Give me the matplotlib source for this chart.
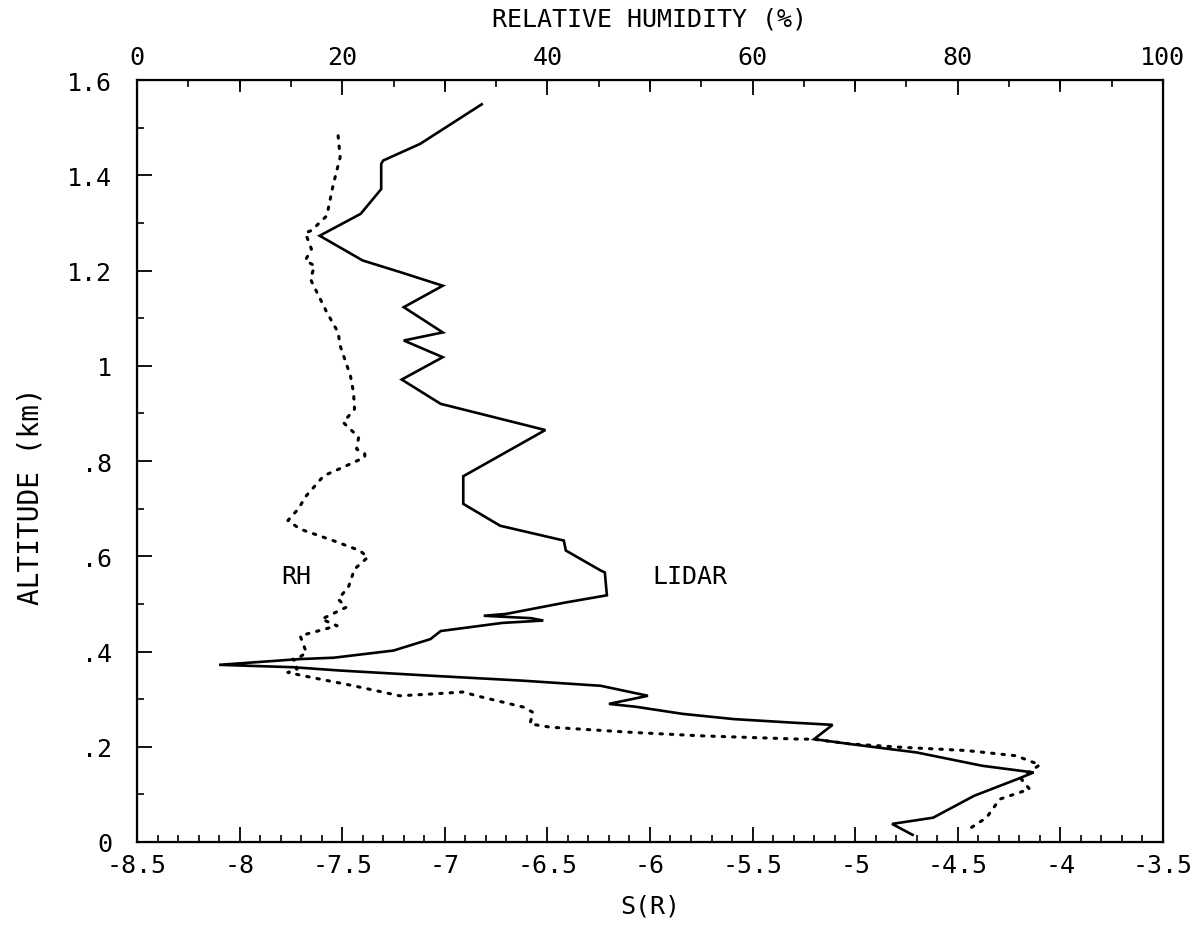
import numpy as np
import matplotlib
matplotlib.use("Agg")
import matplotlib.pyplot as plt
from matplotlib.ticker import MultipleLocator, FixedLocator

# lidar profile: S(R) vs altitude (km)
lidar_s = [-6.82, -7.12, -7.30, -7.31, -7.31, -7.41, -7.61, -7.40, -7.22, -7.01,
           -7.20, -7.01, -7.20, -7.01, -7.21, -7.02, -6.51, -6.91, -6.91, -6.73,
           -6.42, -6.41, -6.24, -6.22, -6.21, -6.41, -6.70, -6.81, -6.58, -6.52,
           -6.72, -7.02, -7.07, -7.25, -7.54, -7.71, -8.10, -7.74, -7.51, -7.06,
           -6.63, -6.24, -6.01, -6.20, -6.07, -5.84, -5.59, -5.32, -5.11, -5.20,
           -5.03, -4.70, -4.38, -4.13, -4.21, -4.42, -4.62, -4.82, -4.72]
lidar_alt = [1.549, 1.466, 1.431, 1.424, 1.371, 1.319, 1.273, 1.221, 1.197, 1.168,
             1.123, 1.070, 1.053, 1.018, 0.971, 0.920, 0.865, 0.768, 0.710, 0.664,
             0.633, 0.612, 0.570, 0.566, 0.518, 0.503, 0.479, 0.475, 0.470, 0.465,
             0.460, 0.443, 0.426, 0.402, 0.387, 0.384, 0.372, 0.367, 0.360, 0.349,
             0.339, 0.328, 0.307, 0.290, 0.284, 0.269, 0.258, 0.251, 0.246, 0.216,
             0.206, 0.188, 0.160, 0.146, 0.132, 0.097, 0.051, 0.038, 0.015]

# radiosonde relative humidity (%) vs altitude (km)
rh_pct = [19.6, 19.8, 19.1, 18.5, 17.0, 16.4, 17.0, 16.4, 17.3, 16.9,
          18.5, 19.6, 19.8, 20.8, 21.1, 21.2, 20.1, 21.6, 21.4, 22.2,
          22.2, 20.4, 18.2, 16.5, 15.7, 14.7, 15.9, 19.1, 21.7, 22.5,
          21.2, 20.6, 19.6, 20.4, 18.0, 19.5, 15.9, 16.5, 15.4, 15.2,
          15.6, 14.7, 16.9, 21.1, 25.6, 28.9, 31.8, 33.1, 37.7, 38.6,
          38.3, 40.3, 48.4, 54.9, 64.6, 65.9, 69.5, 74.4, 80.9, 85.7,
          88.0, 86.9, 86.2, 87.0, 84.1, 82.8, 81.3]
rh_alt = [1.483, 1.438, 1.378, 1.315, 1.284, 1.279, 1.245, 1.221, 1.210, 1.182,
          1.112, 1.070, 1.042, 0.979, 0.944, 0.909, 0.881, 0.850, 0.825, 0.815,
          0.808, 0.790, 0.769, 0.727, 0.699, 0.675, 0.657, 0.633, 0.612, 0.598,
          0.573, 0.535, 0.510, 0.493, 0.468, 0.454, 0.433, 0.398, 0.381, 0.384,
          0.363, 0.356, 0.346, 0.328, 0.307, 0.311, 0.315, 0.307, 0.283, 0.272,
          0.248, 0.241, 0.230, 0.223, 0.216, 0.216, 0.206, 0.199, 0.192, 0.181,
          0.162, 0.146, 0.132, 0.111, 0.090, 0.051, 0.030]

alt_ticks = [0, 0.2, 0.4, 0.6, 0.8, 1.0, 1.2, 1.4, 1.6]
alt_labels = ['0', '.2', '.4', '.6', '.8', '1', '1.2', '1.4', '1.6']
s_ticks = [-8.5, -8, -7.5, -7, -6.5, -6, -5.5, -5, -4.5, -4, -3.5]
s_labels = ['-8.5', '-8', '-7.5', '-7', '-6.5', '-6', '-5.5', '-5', '-4.5', '-4', '-3.5']
rh_ticks = [0, 20, 40, 60, 80, 100]

plt.rcParams['font.family'] = ['DejaVu Sans Mono']
fs = 18

fig = plt.figure(figsize=(11.97, 9.28), dpi=100)
ax = fig.add_axes([0.1145, 0.0916, 0.857, 0.8211])
ax.plot(lidar_s, lidar_alt, color='black', lw=1.9, solid_joinstyle='miter')
ax.set_xlim(-8.5, -3.5)
ax.set_ylim(0, 1.6)

ax.xaxis.set_major_locator(FixedLocator(s_ticks))
ax.set_xticklabels(s_labels)
ax.xaxis.set_minor_locator(MultipleLocator(0.1))
ax.yaxis.set_major_locator(FixedLocator(alt_ticks))
ax.set_yticklabels(alt_labels)
ax.yaxis.set_minor_locator(MultipleLocator(0.1))
ax.tick_params(which='major', direction='in', length=11, width=1.3, labelsize=fs, top=False, right=False)
ax.tick_params(which='minor', direction='in', length=5, width=1.2, top=False, right=False)
ax.tick_params(axis='x', pad=8)
ax.tick_params(axis='y', pad=18)
for sp in ax.spines.values():
    sp.set_linewidth(1.6)

ax.set_xlabel('S(R)', fontsize=fs, labelpad=12)
ax.set_ylabel('ALTITUDE (km)', fontsize=20)
ax.yaxis.set_label_coords(-0.09, 0.455)

ax2 = ax.twiny()
ax2.plot(rh_pct, rh_alt, color='black', lw=2.2, linestyle=(0, (0.8, 2.6)), dash_capstyle='round')
ax2.set_xlim(0, 100)
ax2.xaxis.set_major_locator(FixedLocator(rh_ticks))
ax2.xaxis.set_minor_locator(MultipleLocator(5))
ax2.xaxis.set_minor_formatter(plt.NullFormatter())
ax2.tick_params(which='major', direction='in', length=11, width=1.3, labelsize=fs, pad=8)
ax2.tick_params(which='minor', direction='in', length=5, width=1.2)
# longer ticks at the unlabelled tens
for x in [10, 30, 50, 70, 90]:
    ax2.axvline(x, ymin=1 - 11 / 762, ymax=1, color='black', lw=1.3)
ax2.set_xlabel('RELATIVE HUMIDITY (%)', fontsize=fs, labelpad=14)

ax.text(-7.725, 0.559, 'RH', fontsize=fs, ha='center', va='center')
ax.text(-5.805, 0.559, 'LIDAR', fontsize=fs, ha='center', va='center')

fig.savefig('out.png', dpi=100)
